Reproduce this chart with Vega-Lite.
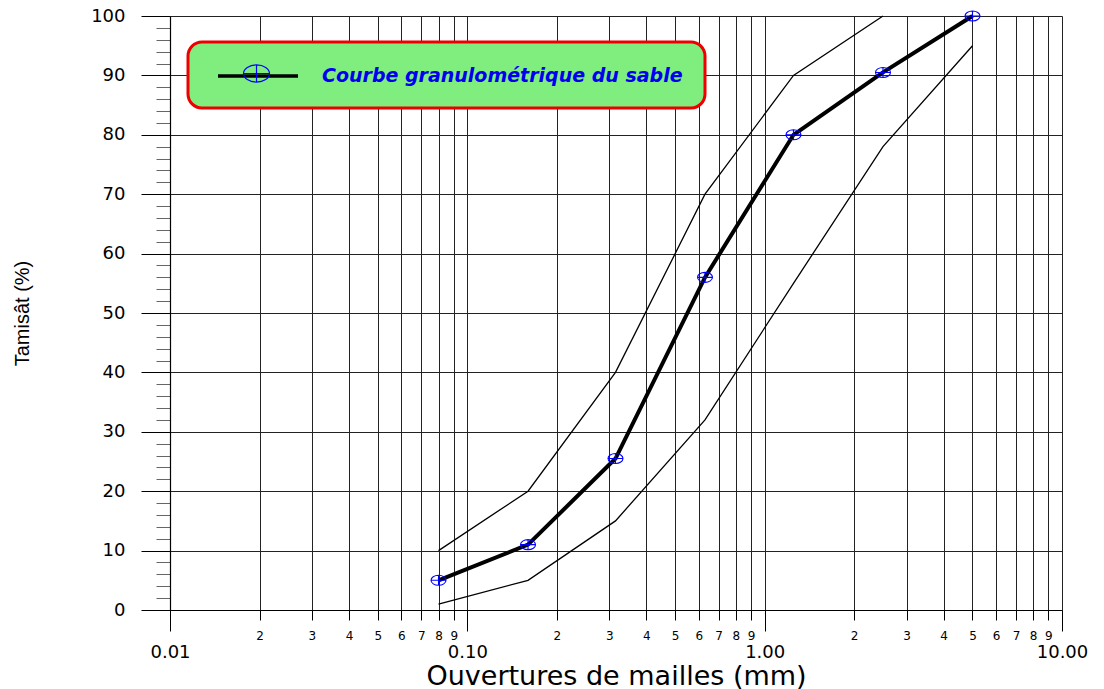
{
  "$schema": "https://vega.github.io/schema/vega-lite/v6.json",
  "width": 892,
  "height": 594,
  "autosize": {"type": "none"},
  "padding": {"left": 170, "top": 16, "right": 42, "bottom": 79},
  "background": "white",
  "config": {
    "view": {"stroke": null},
    "legend": {"strokeWidth": 3},
    "axis": {"domainColor": "black", "domainWidth": 1.2, "tickColor": "black", "gridColor": "#222222", "gridWidth": 1, "gridOpacity": 1, "labelColor": "black", "titleColor": "black"}
  },
  "data": {
    "values": [
      {"serie": "Courbe", "ouverture": 0.08, "tamisat": 5},
      {"serie": "Courbe", "ouverture": 0.16, "tamisat": 11},
      {"serie": "Courbe", "ouverture": 0.315, "tamisat": 25.5},
      {"serie": "Courbe", "ouverture": 0.63, "tamisat": 56},
      {"serie": "Courbe", "ouverture": 1.25, "tamisat": 80},
      {"serie": "Courbe", "ouverture": 2.5, "tamisat": 90.5},
      {"serie": "Courbe", "ouverture": 5, "tamisat": 100},
      {"serie": "Sup", "ouverture": 0.08, "tamisat": 10},
      {"serie": "Sup", "ouverture": 0.16, "tamisat": 20},
      {"serie": "Sup", "ouverture": 0.315, "tamisat": 40},
      {"serie": "Sup", "ouverture": 0.63, "tamisat": 70},
      {"serie": "Sup", "ouverture": 1.25, "tamisat": 90},
      {"serie": "Sup", "ouverture": 2.5, "tamisat": 100},
      {"serie": "Inf", "ouverture": 0.08, "tamisat": 1},
      {"serie": "Inf", "ouverture": 0.16, "tamisat": 5},
      {"serie": "Inf", "ouverture": 0.315, "tamisat": 15},
      {"serie": "Inf", "ouverture": 0.63, "tamisat": 32},
      {"serie": "Inf", "ouverture": 1.25, "tamisat": 55},
      {"serie": "Inf", "ouverture": 2.5, "tamisat": 78},
      {"serie": "Inf", "ouverture": 5, "tamisat": 95}
    ]
  },
  "encoding": {
    "x": {
      "field": "ouverture",
      "type": "quantitative",
      "scale": {"type": "log", "domain": [0.01, 10], "nice": false},
      "axis": {
        "title": "Ouvertures de mailles (mm)",
        "titleFont": "DejaVu Sans",
        "titleFontSize": 27,
        "titleFontWeight": "normal",
        "titlePadding": 2,
        "values": [0.01, 0.02, 0.03, 0.04, 0.05, 0.06, 0.07, 0.08, 0.09, 0.1, 0.2, 0.3, 0.4, 0.5, 0.6, 0.7, 0.8, 0.9, 1, 2, 3, 4, 5, 6, 7, 8, 9, 10],
        "labelExpr": "abs(log(datum.value)/LN10 - round(log(datum.value)/LN10)) < 0.001 ? format(datum.value, '.2f') : format(datum.value / pow(10, floor(log(datum.value)/LN10 + 0.001)), '.0f')",
        "labelFont": "DejaVu Sans",
        "labelFontSize": {"condition": {"test": "abs(log(datum.value)/LN10 - round(log(datum.value)/LN10)) < 0.001", "value": 18}, "value": 12},
        "tickSize": {"condition": {"test": "abs(log(datum.value)/LN10 - round(log(datum.value)/LN10)) < 0.001", "value": 21}, "value": 10},
        "labelPadding": {"condition": {"test": "abs(log(datum.value)/LN10 - round(log(datum.value)/LN10)) < 0.001", "value": 12}, "value": 10},
        "labelOverlap": false,
        "labelFlush": false,
        "labelBound": false,
        "grid": true
      }
    },
    "y": {
      "field": "tamisat",
      "type": "quantitative",
      "scale": {"domain": [0, 100], "nice": false},
      "axis": {
        "title": "Tamisât (%)",
        "titleFont": "Liberation Sans",
        "titleFontSize": 20,
        "titleFontWeight": "normal",
        "titlePadding": 58,
        "values": [0, 2, 4, 6, 8, 10, 12, 14, 16, 18, 20, 22, 24, 26, 28, 30, 32, 34, 36, 38, 40, 42, 44, 46, 48, 50, 52, 54, 56, 58, 60, 62, 64, 66, 68, 70, 72, 74, 76, 78, 80, 82, 84, 86, 88, 90, 92, 94, 96, 98, 100],
        "labelExpr": "datum.value % 10 == 0 ? datum.label : ''",
        "labelFont": "DejaVu Sans",
        "labelFontSize": 18,
        "tickSize": {"condition": {"test": "datum.value % 10 == 0", "value": 29}, "value": 14},
        "tickColor": {"condition": {"test": "datum.value % 10 == 0", "value": "black"}, "value": "#666666"},
        "gridOpacity": {"condition": {"test": "datum.value % 10 == 0", "value": 1}, "value": 0},
        "labelPadding": 16,
        "labelOverlap": false,
        "labelBound": false,
        "labelFlush": false,
        "grid": true
      }
    }
  },
  "layer": [
    {
      "transform": [{"filter": "datum.serie != 'Courbe'"}],
      "mark": {"type": "line", "color": "black", "strokeWidth": 1.3},
      "encoding": {"detail": {"field": "serie"}}
    },
    {
      "transform": [{"filter": "datum.serie == 'Courbe'"}],
      "mark": {"type": "line", "strokeWidth": 4},
      "encoding": {
        "stroke": {
          "datum": "Courbe granulométrique du sable",
          "scale": {"range": ["black"]},
          "legend": {
            "title": null,
            "orient": "none",
            "legendX": 18,
            "legendY": 26,
            "fillColor": "#7fee7f",
            "strokeColor": "#ee0000",
            "cornerRadius": 14,
            "padding": 22,
            "symbolType": "M-4,0H4",
            "symbolSize": 400,
            "symbolStrokeWidth": 3.5,
            "symbolOffset": 36,
            "labelOffset": 52,
            "labelExpr": "datum.label + ' '",
            "labelFont": "DejaVu Sans",
            "labelFontSize": 19,
            "labelFontWeight": "bold",
            "labelFontStyle": "italic",
            "labelColor": "#0000ee",
            "labelLimit": 700,
            "zindex": 1
          }
        }
      }
    },
    {
      "transform": [{"filter": "datum.serie == 'Courbe'"}],
      "mark": {"type": "point", "size": 100, "strokeWidth": 1.1, "color": "#0000ff", "filled": false, "opacity": 1},
      "encoding": {
        "shape": {
          "datum": "marqueur",
          "scale": {"range": ["M-1.5,0A1.5,1 0 1,0 1.5,0A1.5,1 0 1,0 -1.5,0M0,-1V1M-1.5,0H1.5"]},
          "legend": {
            "title": null,
            "orient": "none",
            "legendX": 18,
            "legendY": 26,
            "padding": 22,
            "symbolSize": 300,
            "symbolOffset": 37,
            "symbolStrokeWidth": 1.2,
            "symbolStrokeColor": "#0000ff",
            "symbolFillColor": "transparent",
            "labelExpr": "''",
            "labelFontSize": 19,
            "labelOffset": 52,
            "zindex": 2
          }
        }
      }
    }
  ]
}
